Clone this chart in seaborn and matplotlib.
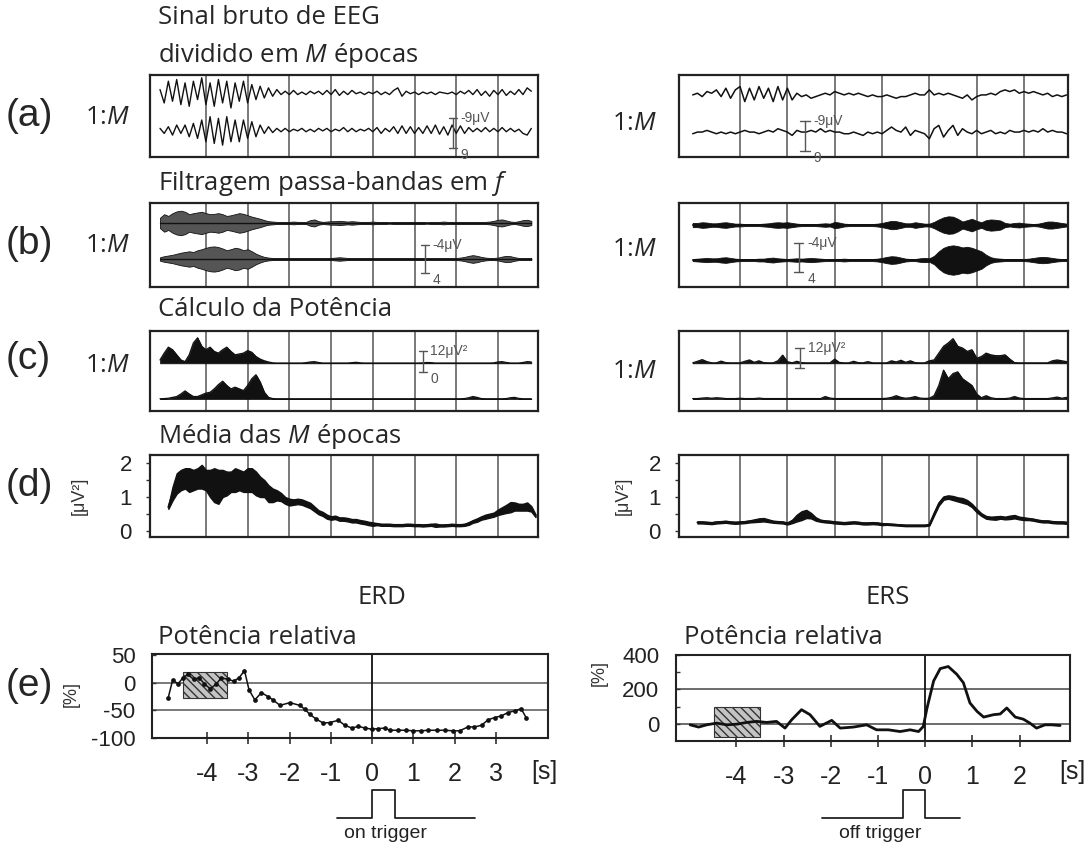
import numpy as np
import matplotlib
matplotlib.use("Agg")
import matplotlib.pyplot as plt
from matplotlib.patches import Rectangle
import seaborn as sns

# ---------------- data ----------------
# (a) raw EEG, two epochs per column, deviations in microvolts, 0.1 s steps
a_left_start, a_left_stop = -5.1, 3.8
a_left_up = [2, -6, 7, -5, 8, -7, 6, -8, 7, -4,
             9, -7, 6, -8, 8, -6, 7, -9, 6, -5,
             7, -6, 5, -4, 4, -3, 3, -2, 2, -1,
             1, -1, 1.5, -1, 0.5, -1, 1, -0.5, 1, -1,
             1.5, -1, 2, -1.5, 1, -1, 1.5, -0.5, 0.5, -1,
             0.5, -0.5, 1, -1, 0.5, -1, 1.5, 3, -2, 1,
             -0.5, 0.5, -1, 0.5, -0.5, 0.5, -1, 0.5, 0, -0.5,
             0.5, -1, 1, -0.5, 1.5, -1, 2, -1.5, 1, -2,
             1.5, -1, 2, -1.5, 1, -1, 2, -1, 3, 1]
a_left_lo = [1, -2, 2, -3, 3, -2, 3, -4, 4, -5,
             6, -7, 8, -8, 7, -9, 8, -7, 6, -7,
             6, -5, 5, -4, 3, -2, 2, -1.5, 1, -1,
             1, -1, 0.5, -0.5, 1, -1, 0.5, -1, 1, -0.5,
             1, -1, 0.5, -0.5, 1.5, -1, 1, -1, 0.5, -0.5,
             1, -1, 1.5, -2, 1, -1, 2, -2, 2.5, -2,
             2, -2, 1.5, -2, 2.5, -2, 3, -2.5, 2, -3,
             3, -2, 2.5, -2, 1.5, -1, 1, -1, 1.5, -1,
             1, -1, 1.5, -1, 1, -1, 0.5, -2, -3, 1]
a_right_start, a_right_stop = -5.0, 2.9
a_right_up = [0, 1, -1, 2, 1, 3, -1, 4, -2, 3,
              5, -4, 4, -3, 5, -2, 4, -4, 5, -3,
              4, -3, 1, -1, 0, -2, -1, 0, 1, 0,
              2, 1, 0, 1, 0, 1, 0, -1, 0, -1,
              -1, 0, -1, -2, -1, -1, 0, 1, 0, 0,
              3, 0, 1, 0, 1, 0, -1, -2, 0, -3,
              -1, 0, 0, 1, 0, 2, 3, 2, 3, 1,
              2, 1, 2, 1, 0, 1, -1, 0, -1, 0]
a_right_lo = [-1, 0, 0, 1, 0, -1, 0, -1, 0, -1,
              0, 1, 0, 0, -1, 0, 1, 0, 2, 1,
              0, -2, 1, 0, 0, 1, 0, 2, 0, 1,
              0, 0, -1, -1, 0, -1, -2, 0, -1, 0,
              -1, 1, 3, 1, 0, 3, -2, 1, 0, -1,
              -4, 2, 4, -3, 1, 4, -2, 2, 0, -1,
              1, -1, 0, 1, -1, 0, -1, 1, 0, 0,
              1, 0, 1, 0, 2, 0, 1, 0, 0, -1]

# (b) band-pass filtered signal: half-amplitude envelope (microvolts)
b_left_up = [1.5, 2.5, 2.0, 2.8, 3.3, 3.5, 3.2, 2.5, 2.8, 3.0,
             3.2, 2.8, 2.5, 2.6, 2.8, 2.5, 2.0, 2.2, 2.5, 2.8,
             2.6, 2.2, 1.8, 1.5, 1.2, 0.8, 0.5, 0.4, 0.3, 0.3,
             0.3, 0.3, 0.4, 0.3, 0.3, 0.3, 0.8, 1.0, 0.5, 0.3,
             0.4, 0.5, 0.5, 0.6, 0.5, 0.4, 0.5, 0.4, 0.3, 0.3,
             0.3, 0.4, 0.3, 0.3, 0.3, 0.2, 0.3, 0.3, 0.3, 0.3,
             0.3, 0.3, 0.3, 0.3, 0.2, 0.3, 0.3, 0.3, 0.4, 0.3,
             0.3, 0.3, 0.3, 0.3, 0.3, 0.3, 0.3, 0.3, 0.3, 0.4,
             0.6, 0.9, 1.0, 0.7, 0.4, 0.3, 0.5, 0.8, 0.9, 0.6]
b_left_lo = [0.5, 0.8, 1.0, 1.2, 1.5, 1.8, 2.0, 2.2, 2.0, 2.5,
             2.8, 3.2, 3.5, 3.6, 3.4, 3.0, 2.5, 2.8, 3.2, 3.0,
             2.5, 2.8, 2.2, 1.5, 1.0, 0.6, 0.4, 0.3, 0.3, 0.3,
             0.3, 0.3, 0.3, 0.3, 0.3, 0.3, 0.3, 0.3, 0.3, 0.3,
             0.3, 0.3, 0.4, 0.5, 0.4, 0.3, 0.3, 0.3, 0.3, 0.3,
             0.3, 0.3, 0.3, 0.3, 0.3, 0.3, 0.3, 0.3, 0.3, 0.3,
             0.3, 0.3, 0.3, 0.3, 0.3, 0.3, 0.3, 0.3, 0.3, 0.3,
             0.3, 0.3, 0.4, 0.6, 0.9, 1.1, 0.9, 0.6, 0.4, 0.3,
             0.3, 0.4, 0.7, 0.9, 0.8, 0.5, 0.3, 0.3, 0.3, 0.3]
b_right_up = [0.6, 0.6, 0.8, 0.7, 0.5, 0.5, 0.7, 0.8, 0.6, 0.4,
              0.4, 0.3, 0.3, 0.3, 0.3, 0.4, 0.5, 0.7, 0.8, 0.7,
              0.8, 0.6, 0.4, 0.3, 0.3, 0.3, 0.3, 0.4, 0.5, 0.4,
              0.9, 0.7, 0.4, 0.3, 0.3, 0.3, 0.3, 0.3, 0.3, 0.4,
              0.6, 0.9, 1.2, 1.1, 0.8, 0.5, 0.5, 0.8, 0.6, 0.4,
              0.4, 0.9, 1.6, 2.2, 2.5, 2.4, 1.8, 1.0, 1.4, 1.8,
              1.2, 0.8, 1.4, 1.6, 1.5, 1.3, 0.6, 0.4, 0.6, 0.7,
              0.5, 0.4, 0.3, 0.4, 0.7, 1.0, 1.0, 0.8, 0.6, 0.4]
b_right_lo = [0.3, 0.4, 0.5, 0.6, 0.5, 0.5, 0.7, 0.8, 0.6, 0.4,
              0.3, 0.3, 0.3, 0.3, 0.4, 0.4, 0.6, 0.7, 0.5, 0.4,
              0.3, 0.4, 0.5, 0.4, 0.5, 0.6, 0.5, 0.4, 0.3, 0.3,
              0.3, 0.3, 0.4, 0.3, 0.3, 0.3, 0.3, 0.3, 0.3, 0.4,
              0.6, 0.9, 1.1, 1.0, 0.7, 0.4, 0.3, 0.3, 0.5, 0.6,
              0.5, 1.2, 2.5, 3.5, 4.0, 4.2, 4.0, 3.6, 3.8, 3.5,
              3.0, 2.5, 1.5, 0.8, 0.5, 0.4, 0.3, 0.3, 0.3, 0.3,
              0.3, 0.4, 0.6, 0.8, 0.9, 0.8, 0.6, 0.4, 0.3, 0.3]

# (c) power (microvolt^2) above each epoch baseline
c_left_up = [2, 6, 9.5, 8, 5, 2, 1, 5, 12, 15,
             10, 8, 9.5, 7, 6, 8, 9.5, 7, 5, 5.5,
             6, 7.5, 6.5, 4, 2.5, 1.5, 0.8, 0.3, 0.2, 0.2,
             0.2, 0.2, 0.2, 0.2, 0.2, 0.4, 0.8, 1.0, 0.5, 0.2,
             0.2, 0.2, 0.2, 0.2, 0.2, 0.2, 0.4, 0.6, 0.3, 0.2,
             0.2, 0.2, 0.2, 0.2, 0.2, 0.2, 0.2, 0.2, 0.2, 0.2,
             0.2, 0.2, 0.2, 0.3, 0.5, 0.4, 0.2, 0.2, 0.2, 0.2,
             0.2, 0.2, 0.2, 0.2, 0.2, 0.2, 0.2, 0.2, 0.2, 0.2,
             0.3, 0.8, 1.0, 0.5, 0.2, 0.2, 0.2, 0.5, 1.0, 0.8]
c_left_lo = [0.2, 0.3, 0.5, 1, 1.5, 3, 4.8, 3, 1.5, 1.5,
             2.5, 3.5, 4, 6, 8.5, 10.5, 8, 6, 7, 6,
             5, 8, 12, 14.3, 10, 4, 1, 0.3, 0.2, 0.2,
             0.2, 0.2, 0.2, 0.2, 0.2, 0.2, 0.2, 0.2, 0.2, 0.2,
             0.2, 0.2, 0.2, 0.2, 0.2, 0.2, 0.2, 0.2, 0.2, 0.2,
             0.2, 0.2, 0.2, 0.2, 0.2, 0.2, 0.2, 0.2, 0.2, 0.2,
             0.2, 0.2, 0.2, 0.2, 0.2, 0.2, 0.2, 0.2, 0.2, 0.2,
             0.2, 0.2, 0.2, 0.3, 0.8, 1.5, 1.0, 0.3, 0.2, 0.2,
             0.2, 0.2, 0.2, 0.3, 0.8, 1.0, 0.4, 0.2, 0.2, 0.2]
c_right_up = [0.3, 1.2, 2.2, 1.0, 0.3, 0.3, 1.3, 0.4, 0.3, 0.3,
              0.3, 1.2, 2.0, 0.6, 1.5, 0.4, 0.3, 0.3, 1.5, 4.8,
              1.0, 0.3, 1.2, 0.4, 0.3, 0.3, 0.3, 0.3, 0.3, 0.3,
              2.5, 0.5, 0.3, 0.3, 1.2, 0.4, 0.3, 1.0, 0.3, 0.3,
              0.3, 0.3, 1.5, 0.8, 1.8, 0.6, 1.5, 0.4, 0.3, 0.3,
              1.5, 2, 6, 10, 12, 14.5, 10, 9, 7, 8,
              3, 4, 6, 5, 4.5, 4.5, 5, 2.5, 0.4, 0.3,
              0.3, 0.3, 0.3, 0.3, 0.3, 0.3, 1.5, 2, 1.5, 1.0]
c_right_lo = [0.3, 0.3, 0.6, 0.8, 0.5, 0.8, 0.6, 0.3, 0.3, 0.3,
              0.5, 0.3, 0.3, 0.3, 0.6, 0.3, 0.3, 0.3, 0.3, 0.3,
              0.3, 0.3, 0.3, 0.3, 0.3, 0.3, 0.3, 0.3, 1.5, 0.6,
              0.3, 0.3, 0.3, 0.3, 0.3, 0.3, 0.3, 0.3, 0.3, 0.3,
              0.3, 0.5, 1.0, 2.0, 1.0, 0.5, 0.8, 1.5, 0.6, 0.4,
              0.5, 2, 8, 17, 12, 15, 16, 12, 10, 8,
              3, 0.8, 2, 0.8, 0.3, 0.3, 0.3, 0.6, 1.5, 0.6,
              0.3, 0.3, 0.3, 0.3, 0.3, 0.3, 0.7, 1.2, 0.5, 1.0]

# (d) average power over the M epochs: centre and half width (microvolt^2)
d_left_start, d_left_stop = -4.9, 3.9
d_left_mid = [0.7, 1.1, 1.4, 1.5, 1.55, 1.5, 1.5, 1.55, 1.6, 1.5,
              1.4, 1.35, 1.3, 1.4, 1.4, 1.45, 1.5, 1.5, 1.45, 1.5,
              1.5, 1.4, 1.3, 1.25, 1.1, 1.05, 1.05, 1.0, 0.9, 0.85,
              0.85, 0.87, 0.85, 0.8, 0.75, 0.65, 0.55, 0.5, 0.42, 0.38,
              0.4, 0.35, 0.35, 0.33, 0.3, 0.3, 0.27, 0.25, 0.22, 0.2,
              0.2, 0.18, 0.18, 0.18, 0.17, 0.17, 0.17, 0.18, 0.18, 0.17,
              0.17, 0.16, 0.17, 0.18, 0.17, 0.16, 0.16, 0.17, 0.18, 0.17,
              0.17, 0.18, 0.22, 0.28, 0.32, 0.38, 0.42, 0.45, 0.48, 0.55,
              0.6, 0.65, 0.7, 0.72, 0.7, 0.7, 0.72, 0.65, 0.45]
d_left_hw = [0.05, 0.2, 0.3, 0.3, 0.3, 0.35, 0.3, 0.3, 0.35, 0.3,
             0.4, 0.5, 0.5, 0.4, 0.35, 0.3, 0.35, 0.3, 0.3, 0.35,
             0.35, 0.35, 0.3, 0.25, 0.25, 0.2, 0.15, 0.12, 0.1, 0.1,
             0.08, 0.08, 0.08, 0.08, 0.08, 0.07, 0.06, 0.06, 0.06, 0.05,
             0.05, 0.05, 0.05, 0.05, 0.05, 0.05, 0.05, 0.05, 0.05, 0.05,
             0.03, 0.03, 0.03, 0.03, 0.03, 0.03, 0.03, 0.03, 0.03, 0.03,
             0.03, 0.03, 0.03, 0.03, 0.05, 0.03, 0.03, 0.03, 0.03, 0.03,
             0.03, 0.03, 0.04, 0.04, 0.05, 0.05, 0.06, 0.06, 0.06, 0.08,
             0.1, 0.12, 0.15, 0.12, 0.1, 0.1, 0.12, 0.08, 0.04]
d_right_start, d_right_stop = -4.9, 2.9
d_right_mid = [0.25, 0.25, 0.24, 0.23, 0.25, 0.26, 0.27, 0.25, 0.24, 0.25,
               0.26, 0.28, 0.3, 0.32, 0.33, 0.3, 0.27, 0.26, 0.25, 0.22,
               0.28, 0.38, 0.45, 0.5, 0.45, 0.35, 0.3, 0.28, 0.27, 0.25,
               0.24, 0.23, 0.24, 0.25, 0.24, 0.22, 0.22, 0.23, 0.22, 0.2,
               0.2, 0.19, 0.18, 0.17, 0.16, 0.16, 0.16, 0.16, 0.16, 0.18,
               0.5, 0.8, 0.97, 1.0, 0.97, 0.93, 0.9, 0.85, 0.75, 0.6,
               0.48, 0.4, 0.38, 0.38, 0.4, 0.38, 0.4, 0.42, 0.38, 0.36,
               0.35, 0.33, 0.3, 0.28, 0.28, 0.26, 0.25, 0.25, 0.24]
d_right_hw = [0.03, 0.03, 0.03, 0.03, 0.03, 0.03, 0.03, 0.03, 0.03, 0.03,
              0.03, 0.03, 0.04, 0.05, 0.05, 0.04, 0.03, 0.03, 0.03, 0.03,
              0.05, 0.1, 0.13, 0.12, 0.08, 0.05, 0.03, 0.03, 0.03, 0.03,
              0.03, 0.03, 0.03, 0.03, 0.03, 0.03, 0.03, 0.03, 0.03, 0.03,
              0.02, 0.02, 0.02, 0.02, 0.02, 0.02, 0.02, 0.02, 0.02, 0.02,
              0.04, 0.05, 0.05, 0.05, 0.06, 0.06, 0.07, 0.06, 0.05, 0.05,
              0.04, 0.04, 0.04, 0.05, 0.04, 0.04, 0.05, 0.05, 0.04, 0.04,
              0.03, 0.03, 0.03, 0.03, 0.03, 0.03, 0.03, 0.03, 0.03]

# (e) relative power [%]
erd_t = [-4.94, -4.83, -4.70, -4.58, -4.46, -4.32, -4.19, -4.06, -3.92, -3.77,
         -3.65, -3.49, -3.35, -3.22, -3.09, -2.98, -2.84, -2.68, -2.52, -2.40,
         -2.23, -1.99, -1.75, -1.63, -1.51, -1.35, -1.18, -1.02, -0.82, -0.66,
         -0.49, -0.33, -0.17, -0.01, 0.15, 0.31, 0.43, 0.63, 0.83, 0.99,
         1.19, 1.35, 1.56, 1.76, 1.96, 2.12, 2.32, 2.48, 2.65, 2.81,
         2.97, 3.13, 3.29, 3.45, 3.61, 3.73]
erd_v = [-28, 5, -2, 9, 15, 6, 9, -2, -11, -2,
         9, 6, 3, 9, 22, -13, -31, -18, -25, -31,
         -41, -36, -41, -48, -57, -66, -73, -72, -68, -77,
         -82, -79, -82, -84, -83, -82, -86, -86, -86, -87,
         -87, -86, -86, -86, -87, -87, -80, -80, -77, -67,
         -63, -60, -54, -51, -47, -63]
ers_t = [-4.98, -4.80, -4.63, -4.42, -4.20, -3.99, -3.78, -3.57, -3.36, -3.15,
         -2.97, -2.83, -2.62, -2.44, -2.23, -1.98, -1.80, -1.52, -1.24, -1.03,
         -0.78, -0.53, -0.32, -0.14, -0.04, 0.04, 0.18, 0.32, 0.49, 0.67,
         0.81, 0.95, 1.10, 1.24, 1.45, 1.59, 1.73, 1.91, 2.08, 2.22,
         2.36, 2.54, 2.68, 2.86]
ers_v = [-6, -19, -6, 4, -6, -2, 8, 14, 8, 14,
         -25, 23, 82, 53, -15, 20, -25, -19, -6, -35,
         -35, -45, -35, -45, -16, 92, 249, 321, 333, 288,
         239, 121, 72, 39, 53, 57, 92, 39, 27, 4,
         -25, -6, -6, -10]
ref_erd = (-4.58, -3.52, -28, 19)     # reference interval box: t0, t1, v0, v1
ref_ers = (-4.48, -3.50, -75, 95)

trig_on_t = [-0.85, 0, 0, 0.55, 0.55, 2.49]
trig_off_t = [-2.18, -0.47, -0.47, 0, 0, 0.74]
trig_level = [0, 0, 1, 1, 0, 0]

sec_left = [-4, -3, -2, -1, 0, 1, 2, 3]
sec_right = [-4, -3, -2, -1, 0, 1, 2]

# ---------------- style ----------------
sns.set_theme(style="white")
plt.rcParams['font.family'] = ['Open Sans', 'DejaVu Sans']
plt.rcParams['mathtext.fontset'] = 'custom'
plt.rcParams['mathtext.rm'] = 'Open Sans'
plt.rcParams['mathtext.it'] = 'Open Sans:italic'
plt.rcParams['hatch.color'] = '#333333'
plt.rcParams['hatch.linewidth'] = 1.0
ARIAL = ['Liberation Sans', 'DejaVu Sans']
INK = '#111111'

W, H = 1092, 848
fig = plt.figure(figsize=(W / 100, H / 100), dpi=100)
fig.patch.set_facecolor('white')


def add_ax(x0, y0, x1, y1):
    return fig.add_axes([x0 / W, 1 - y1 / H, (x1 - x0) / W, (y1 - y0) / H])


def ftext(x, y, s, **kw):
    fig.text(x / W, 1 - y / H, s, **kw)


def line(ax, x, y, **kw):
    sns.lineplot(x=list(x), y=list(y), ax=ax, estimator=None, sort=False,
                 color=kw.pop('color', INK), **kw)


def box(ax, xlim, ylim, secs):
    ax.set_xlim(*xlim)
    ax.set_ylim(*ylim)
    ax.set_xticks([])
    ax.set_yticks([])
    ax.set_facecolor('white')
    for s in ax.spines.values():
        s.set_visible(True)
        s.set_color('#222222')
        s.set_linewidth(1.6)
    for s in secs:
        ax.axvline(s, color='#555555', lw=1.1, zorder=0)


def scalebar(ax, x, y0, y1, top, bottom, dx):
    cap = dx
    ax.plot([x, x], [y0, y1], color='#555555', lw=1.0)
    ax.plot([x - cap, x + cap], [y0, y0], color='#555555', lw=1.0)
    ax.plot([x - cap, x + cap], [y1, y1], color='#555555', lw=1.0)
    ax.text(x + 1.8 * cap, y1, top, fontsize=10, color='#555555', family=ARIAL,
            ha='left', va='center')
    ax.text(x + 1.8 * cap, y0, bottom, fontsize=10, color='#555555', family=ARIAL,
            ha='left', va='top')


XL_L = (-5.34, 3.96)
XL_R = (-5.29, 2.93)
tl_a = np.linspace(a_left_start, a_left_stop, len(a_left_up))
tr_a = np.linspace(a_right_start, a_right_stop, len(a_right_up))

# ---------------- (a) raw EEG ----------------
ax = add_ax(150, 75, 538, 157)
box(ax, XL_L, (-24.5, 24.5), sec_left)
line(ax, tl_a, np.array(a_left_up) + 13.8, lw=1.0)
line(ax, tl_a, np.array(a_left_lo) - 8.4, lw=1.0)
scalebar(ax, 1.93, -19.2, -1.2, '-9μV', '9', 0.1)

ax = add_ax(679, 75, 1068, 157)
box(ax, XL_R, (-24.5, 24.5), sec_right)
line(ax, tr_a, np.array(a_right_up) + 12.6, lw=1.1)
line(ax, tr_a, np.array(a_right_lo) - 9.6, lw=1.1)
scalebar(ax, -2.63, -21, -3, '-9μV', '9', 0.1)

# ---------------- (b) band-pass ----------------
ax = add_ax(150, 203, 538, 287)
box(ax, XL_L, (-12, 12), sec_left)
for env, off in ((b_left_up, 6.3), (b_left_lo, -4.0)):
    env = np.array(env)
    ax.fill_between(tl_a, off - env, off + env, facecolor='#555555',
                    edgecolor=INK, lw=0.6)
    line(ax, tl_a, np.full(len(env), off), lw=1.0)
scalebar(ax, 1.25, -8, 0, '-4μV', '4', 0.1)

ax = add_ax(679, 203, 1068, 287)
box(ax, XL_R, (-12, 12), sec_right)
for env, off in ((b_right_up, 5.7), (b_right_lo, -4.3)):
    env = np.array(env)
    ax.fill_between(tr_a, off - env, off + env, color=INK, lw=0.6)
    line(ax, tr_a, np.full(len(env), off), lw=1.4)
scalebar(ax, -2.76, -7.7, 0.6, '-4μV', '4', 0.1)

# ---------------- (c) power ----------------
ax = add_ax(150, 331, 538, 411)
box(ax, XL_L, (0, 47), sec_left)
for pw, base in ((c_left_up, 28), (c_left_lo, 7)):
    pw = np.array(pw)
    ax.fill_between(tl_a, base, base + pw, color=INK, lw=0.5)
    line(ax, tl_a, base + pw, lw=0.9)
scalebar(ax, 1.2, 23, 35, '12μV²', '0', 0.1)

ax = add_ax(679, 331, 1068, 411)
box(ax, XL_R, (0, 47), sec_right)
for pw, base in ((c_right_up, 28), (c_right_lo, 7)):
    pw = np.array(pw)
    ax.fill_between(tr_a, base, base + pw, color=INK, lw=0.5)
    line(ax, tr_a, base + pw, lw=0.9)
scalebar(ax, -2.74, 25, 37, '12μV²', '', 0.1)

# ---------------- (d) average ----------------
for (x0, x1, xl, secs, start, stop, mid, hw) in (
        (150, 538, XL_L, sec_left, d_left_start, d_left_stop, d_left_mid, d_left_hw),
        (679, 1068, XL_R, sec_right, d_right_start, d_right_stop, d_right_mid, d_right_hw)):
    ax = add_ax(x0, 455, x1, 537)
    box(ax, xl, (-0.18, 2.24), secs)
    td = np.linspace(start, stop, len(mid))
    mid = np.array(mid)
    hw = np.array(hw)
    ax.fill_between(td, mid - hw, mid + hw, color=INK, lw=1.0)
    line(ax, td, mid, lw=1.4)
    ax.set_yticks([0, 1, 2])
    ax.set_yticks([0.5, 1.5], minor=True)
    ax.set_yticklabels(['0', '1', '2'], family=ARIAL, fontsize=16, color='#222222')
    ax.tick_params(axis='y', which='both', left=True, direction='out', length=3,
                  width=1, color='#333333', pad=10)

# ---------------- (e) relative power ----------------
axe = add_ax(152, 654, 548, 738)
axe.set_xlim(-5.33, 4.26)
axe.set_ylim(-98, 52)
axe.axhline(0, color='#555555', lw=1.1, zorder=0)
axe.axhline(-50, color='#555555', lw=1.1, zorder=0)
axe.axvline(0, color=INK, lw=1.3, zorder=0)
axe.add_patch(Rectangle((ref_erd[0], ref_erd[2]), ref_erd[1] - ref_erd[0],
                        ref_erd[3] - ref_erd[2], facecolor='#c4c4c4',
                        edgecolor='#333333', hatch='\\\\\\\\', lw=0.8, zorder=1))
line(axe, erd_t, erd_v, lw=1.1, marker='o', markersize=3.4, markeredgewidth=0,
     zorder=3)
axe.set_yticks([50, 0, -50, -100])
axe.set_yticklabels(['50', '0', '-50', '-100'], family=ARIAL, fontsize=16,
                    color='#222222')

axs = add_ax(676, 655, 1070, 741)
axs.set_xlim(-5.28, 3.07)
axs.set_ylim(-100, 400)
axs.axhline(0, color='#444444', lw=1.1, zorder=0)
axs.axhline(200, color='#444444', lw=1.1, zorder=0)
axs.axvline(0, color=INK, lw=1.3, zorder=0)
axs.add_patch(Rectangle((ref_ers[0], ref_ers[2]), ref_ers[1] - ref_ers[0],
                        ref_ers[3] - ref_ers[2], facecolor='#c4c4c4',
                        edgecolor='#333333', hatch='\\\\\\\\', lw=0.8, zorder=1))
line(axs, ers_t, ers_v, lw=2.0, zorder=3)
axs.set_yticks([0, 200, 400])
axs.set_yticks([100, 300], minor=True)
axs.set_yticklabels(['0', '200', '400'], family=ARIAL, fontsize=16, color='#222222')

for a, secs in ((axe, sec_left), (axs, sec_right)):
    for s in a.spines.values():
        s.set_visible(True)
        s.set_color('#222222')
        s.set_linewidth(1.5)
    a.set_xticks(secs)
    a.set_xticklabels([str(v) for v in secs], family=ARIAL, fontsize=18,
                      color='#222222')
    a.tick_params(axis='x', bottom=True, direction='inout', length=9, width=1.2,
                  color='#333333', pad=13)
    a.tick_params(axis='y', which='both', left=True, direction='in', length=3,
                  width=1, color='#333333', pad=12)
    a.set_facecolor('white')

# trigger pulses
for (x0, x1, xl, tt, label, cx) in ((152, 548, (-5.33, 4.26), trig_on_t, 'on trigger', 385),
                                   (676, 1070, (-5.28, 3.07), trig_off_t, 'off trigger', 880)):
    axt = add_ax(x0, 789, x1, 819)
    axt.set_xlim(*xl)
    axt.set_ylim(-0.05, 1.05)
    line(axt, tt, trig_level, lw=1.3, color='#222222')
    axt.axis('off')
    ftext(cx, 834, label, family=ARIAL, fontsize=14, ha='center', va='center',
          color='#222222')

# ---------------- text ----------------
TS = 18.5
ftext(158, 18, 'Sinal bruto de EEG', fontsize=TS, ha='left', va='center')
ftext(158, 55, 'dividido em $M$ épocas', fontsize=TS, ha='left', va='center')
ftext(158, 183, 'Filtragem passa-bandas em $f$', fontsize=TS, ha='left', va='center')
ftext(158, 310, 'Cálculo da Potência', fontsize=TS, ha='left', va='center')
ftext(158, 436, 'Média das $M$ épocas', fontsize=TS, ha='left', va='center')
ftext(382, 597, 'ERD', fontsize=TS, ha='center', va='center')
ftext(888, 597, 'ERS', fontsize=TS, ha='center', va='center')
ftext(158, 637, 'Potência relativa', fontsize=TS, ha='left', va='center')
ftext(684, 637, 'Potência relativa', fontsize=TS, ha='left', va='center')

for lab, y in (('(a)', 116), ('(b)', 244), ('(c)', 359), ('(d)', 486), ('(e)', 686)):
    ftext(6, y, lab, family=ARIAL, fontsize=28, ha='left', va='center')
for y in (118, 246, 365):
    ftext(85, y, '1:$M$', fontsize=18.5, ha='left', va='center')
for y in (123, 250, 372):
    ftext(612, y, '1:$M$', fontsize=18.5, ha='left', va='center')

ftext(79, 496, '[μV²]', family=ARIAL, fontsize=13, rotation=90, ha='center',
      va='center', color='#333333')
ftext(623, 496, '[μV²]', family=ARIAL, fontsize=13, rotation=90, ha='center',
      va='center', color='#333333')
ftext(71, 694, '[%]', family=ARIAL, fontsize=13, rotation=90, ha='center',
      va='center', color='#333333')
ftext(599, 673, '[%]', family=ARIAL, fontsize=13, rotation=90, ha='center',
      va='center', color='#333333')
ftext(544, 772, '[s]', family=ARIAL, fontsize=18, ha='center', va='center',
      color='#222222')
ftext(1072, 772, '[s]', family=ARIAL, fontsize=18, ha='center', va='center',
      color='#222222')

fig.savefig('out.png', dpi=100, facecolor='white')
